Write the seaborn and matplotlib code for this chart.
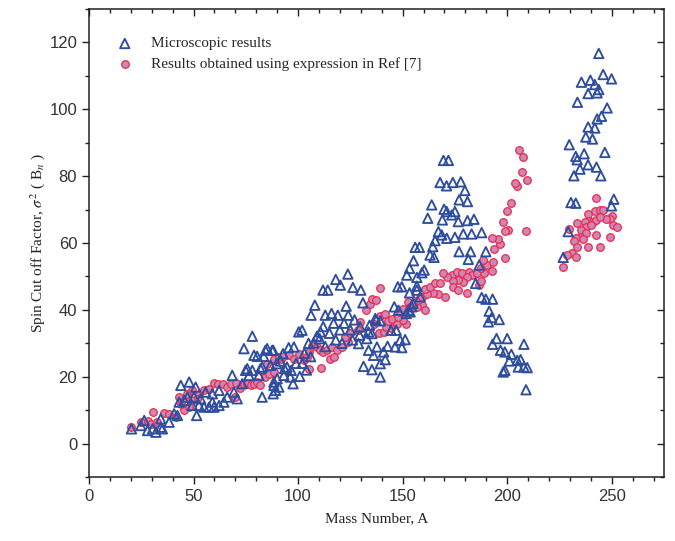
import numpy as np
import pandas as pd
import matplotlib
matplotlib.use("Agg")
import matplotlib.pyplot as plt
import seaborn as sns
from matplotlib.ticker import MultipleLocator

# ---------------- data ----------------
micro_A = [
    20.3, 24.8, 26.4, 28, 30.4, 32, 34.3, 35.1, 38.3, 34.3, 40.7, 42.3, 43.9, 47.9, 51, 51.5,
    45.5, 43.1, 47.1, 50.2, 49.4, 52.6, 53.4, 55, 57.4, 59, 55.8, 59, 59.8, 62.2, 62.2, 64.5,
    66.1, 68.5, 69.3, 70.9, 73.3, 74.1, 75.7, 78.1, 78.9, 80.4, 81.2, 82.8, 83.6, 84.4, 85.2,
    87.6, 86.8, 88.4, 82.8, 89.2, 90, 90.8, 76.5, 78.1, 82, 74.9,
    98, 95.5, 92.8, 91.6, 89.7, 88.1, 88.4, 88.1, 93.2, 96.3, 97.6, 100.8, 94.7, 96.7, 93.5,
    110.7, 109, 110.3, 107.5, 101.9, 100.3, 108, 106.2, 111.9, 114.2, 118, 120.2, 123.8, 126.2,
    130, 123, 131, 113, 116, 119, 124, 129.4, 132.9, 135.3, 137.7, 140.9, 141.7, 139.3, 135.3,
    131.3, 139.3, 142.8, 146.4, 149.6, 148.8, 144.4, 146.9, 151.2, 128.9, 133.7, 136.1, 133.7,
    137.4, 129.7, 134.2, 136.9, 139.3, 146, 148, 152.8, 147.7, 149.6, 154.9, 156.8, 151.7,
    153.6, 158.4, 154.4,
    103, 105, 112, 115, 117, 120, 122, 125, 127, 102, 104, 99, 106, 113, 118, 121, 126,
    156.8, 153.3, 155.2, 153.3, 152, 160.3, 159.2, 156.8, 156, 158, 163.1, 165, 165.5, 164.4,
    162, 163.9, 167.1, 168.7, 171.1, 175, 179, 183, 187.8, 169, 176.6, 181, 184.1, 169.8,
    171.1, 175, 173.5, 177, 181, 179.8, 167.9, 171, 174, 177.8, 169.5, 171.9, 177, 182.5,
    181.4, 189.8, 186.6, 184.9, 187.8, 189.8, 193, 191.4, 192.6, 191, 196.2, 194.9, 193, 200,
    208, 196.8, 198.9, 202, 201, 204.8, 206.4, 208, 209.6, 205.3, 198.1, 198.9, 209,
    243.8, 245.9, 249.9, 235.5, 239.8, 241.9, 243.8, 243, 238.7, 233.6, 247.8, 245.1, 243,
    238.7, 241.9, 237.6, 240.8, 229.7, 246.7, 232.8, 236.8, 233.5, 234.8, 238.7, 242.7, 231.9,
    244.8, 230.5, 232.8, 251, 249.9, 229.2, 226.8,
]
micro_sigma2 = [
    4.4, 5.4, 6.9, 3.9, 4.4, 3.4, 7.4, 4.4, 6.4, 4.9, 8.9, 8.4, 17.4, 18.4, 16.9, 8.4,
    12.9, 12.4, 13.9, 13.9, 11.4, 11.4, 13.4, 10.9, 10.9, 14.9, 15.4, 12.4, 10.9, 15.9, 11.4, 12.4,
    13.9, 20.4, 15.4, 13.4, 17.9, 28.4, 22.4, 32.1, 26.4, 26.1, 20.4, 22.9, 26.1, 27.9, 28.4,
    27.9, 23.4, 18.4, 13.9, 15.9, 19.4, 16.9, 20.4, 21.9, 22.4, 21.9,
    28.9, 28.7, 26.9, 24.7, 23.9, 27.9, 17.4, 14.9, 20.4, 19.9, 17.9, 20.1, 22.9, 21.9, 22.4,
    33.4, 32.1, 31.4, 30.1, 33.9, 33.4, 41.4, 38.4, 45.9, 45.9, 49.1, 47.4, 50.7, 46.7,
    45.9, 41.1, 42.1, 38.4, 38.9, 38.4, 38.4, 32.4, 31.4, 32.9, 28.9, 27.4, 25.1, 23.9, 22.1,
    23.1, 19.9, 29.1, 28.9, 28.7, 30.9, 33.9, 33.9, 31.1, 29.9, 27.9, 26.4, 33.4,
    36.9, 34.9, 35.4, 37.4, 36.7, 40.9, 39.9, 39.9, 46.9, 46.9, 41.9, 45.9, 38.9,
    39.4, 43.9, 40.9,
    27, 30, 35, 33, 36, 34, 36, 34, 37, 24, 22, 24, 26, 29, 31, 30, 31,
    47.1, 45.1, 54.7, 52.4, 50.4, 51.9, 51.1, 49.7, 58.7, 58.7, 56.4, 55.7, 60.7, 58.9,
    67.4, 71.4, 63.4, 62.4, 61.4, 61.7, 62.7, 62.7, 63.1, 66.9, 66.4, 66.7, 67.1, 70.1,
    69.4, 69.4, 68.4, 72.9, 72.4, 75.7, 78.1, 77.1, 78.1, 78.3, 84.7, 84.7, 57.4, 57.4,
    55.1, 57.4, 53.4, 47.9, 43.7, 43.2, 43.2, 39.6, 37.7, 36.4, 37.1, 31.4, 29.7, 31.4,
    29.7, 27.9, 27.4, 26.7, 24.7, 24.9, 25.1, 22.9, 22.7, 22.9, 21.4, 21.9, 16.1,
    116.7, 110.4, 109.1, 108.1, 108.7, 107.4, 105.9, 104.9, 104.7, 102.1, 100.4, 97.9, 97.1,
    94.7, 94.4, 91.7, 91.1, 89.4, 87.1, 85.9, 86.7, 84.9, 82.1, 83.4, 82.7, 80.1,
    80.1, 72.1, 71.9, 73.1, 71.1, 63.4, 55.7,
]

ref_A = [
    20, 24.8, 28, 30.4, 35.9, 38.3, 29.6, 32.7, 41.5, 45.5, 43.9, 43.1, 47.1, 49.4, 52.6, 55,
    57.4, 59.8, 61.7, 64.2, 66.1, 67.7, 70.1, 69.6, 72.2, 74.1, 75.7, 77.3, 78.9, 80.4, 82,
    84.4, 86, 88.4, 85.2, 88.4, 90, 91.6, 47.9, 51.8, 48.6,
    88.4, 90.8, 93.2, 95.5, 97.9, 100.3, 102.7, 105.1, 111, 104.3, 105.1, 106.7, 109, 110.6,
    111.9, 113.8, 115.4, 117, 116.2, 118.6, 121, 123.7, 122.6, 125, 128.5, 129.7, 132.6, 134.5,
    135.3, 137.4, 139.3, 136.1, 138.5, 140.9, 144.4, 142.1, 139.3, 141.7, 143.2, 144.8, 147.2,
    151.7, 150.4, 148, 148.8, 150.4, 152.8, 153.6, 159.1, 160.7, 156.8, 155.2, 157.5, 159.1,
    170.3, 167.1, 164.7, 161.5, 160.7, 163.1, 165.5, 167.9, 173.4, 175.8, 178.2, 181.9, 184.6,
    183, 180.6, 178.7, 176.6, 173.9, 171.4, 169.5, 174.2, 176.6, 180.9, 186.6, 187.3,
    185.4, 188.9, 192.5, 187.3, 190.2, 188.6, 193, 198.9, 193.7, 196.8, 195.7, 192.5, 208.9,
    200.5, 198.9, 197.8, 199.7, 201.6, 204.8, 203.7, 209.6, 206.9, 207.7, 205.8,
    242.7, 238.7, 241.9, 244.3, 245.9, 249.9, 249.1, 247.2, 239.2, 241.1, 242.7, 244.3, 237.1,
    233.5, 237.6, 240.3, 235.5, 237.9, 234.8, 232.8, 236.3, 231.9, 242.7, 249.1, 229.7, 250.7,
    252.6, 233.5, 238.7, 244.6, 230.8, 228.4, 232.8, 226.8,
]
ref_sigma2 = [
    4.9, 6.4, 6.7, 9.4, 9.1, 8.9, 5.9, 6.4, 7.9, 9.9, 11.9, 13.9, 14.9, 15.9, 14.9, 15.9,
    16.4, 18.1, 17.9, 17.7, 16.9, 17.9, 18.1, 13.9, 16.7, 17.7, 17.9, 17.4, 17.9, 18.4, 17.4,
    19.9, 20.9, 21.4, 23.9, 24.9, 25.9, 25.4, 10.9, 13.4, 12.9,
    25.4, 25.9, 26.1, 26.4, 25.4, 26.9, 24.9, 22.4, 22.7, 25.9, 27.4, 29.1, 28.9, 27.9,
    27.4, 27.9, 25.4, 25.9, 28.9, 28.1, 28.9, 30.4, 31.9, 33.1, 33.9, 36.4, 40.1, 41.7,
    43.1, 42.9, 46.4, 35.9, 33.1, 33.4, 34.7, 34.9, 38.1, 38.9, 36.7, 37.4, 35.9,
    35.9, 36.9, 37.9, 39.4, 40.4, 42.4, 40.9, 41.4, 40.1, 40.9, 42.1, 42.9, 43.9,
    43.9, 44.7, 45.1, 44.7, 46.1, 46.7, 47.9, 47.9, 50.4, 51.4, 50.9, 51.4, 50.7,
    50.4, 49.7, 48.3, 48.9, 48.7, 49.9, 51.1, 46.9, 45.9, 45.1, 47.4, 48.7,
    50.9, 51.1, 51.7, 52.4, 53.4, 54.9, 54.4, 55.4, 58.1, 59.7, 61.1, 61.4, 63.7,
    63.9, 63.7, 66.4, 69.7, 72.1, 77.1, 77.9, 78.9, 81.1, 85.7, 87.9,
    73.4, 68.7, 69.7, 69.9, 69.9, 68.1, 67.1, 67.1, 66.7, 66.4, 66.9, 67.9, 66.4,
    65.9, 64.9, 65.4, 63.9, 63.1, 61.9, 61.4, 61.1, 60.7, 62.4, 61.7, 64.1, 65.4,
    64.7, 58.9, 58.9, 58.7, 56.9, 56.4, 55.7, 52.7,
]

legend_labels = ["Microscopic results", "Results obtained using expression in Ref [7]"]
x_label = "Mass Number, A"
y_label = r"Spin Cut off Factor, $\sigma^2$ ( B$_n$ )"

micro = pd.DataFrame({"A": micro_A, "s2": micro_sigma2})
ref = pd.DataFrame({"A": ref_A, "s2": ref_sigma2})

# ---------------- styling ----------------
sns.set_style("ticks")
plt.rcParams["font.family"] = ["Liberation Sans", "DejaVu Sans"]
plt.rcParams["mathtext.fontset"] = "stix"

fig = plt.figure(figsize=(6.75, 5.41), dpi=100)
ax = fig.add_axes([89 / 675, 1 - 477 / 541, 575 / 675, 468 / 541])

sns.scatterplot(data=ref, x="A", y="s2", ax=ax, marker="o", s=30,
                fc="#CE86B6", edgecolor="#EE2A48", linewidth=0.9,
                label=legend_labels[1], zorder=2)
sns.scatterplot(data=micro, x="A", y="s2", ax=ax, marker="^", s=46,
                fc="none", edgecolor="#2E4D9F", linewidth=1.35,
                label=legend_labels[0], zorder=3)

ax.set_xlim(0, 275)
ax.set_ylim(-10, 130)
ax.xaxis.set_major_locator(MultipleLocator(50))
ax.xaxis.set_minor_locator(MultipleLocator(10))
ax.yaxis.set_major_locator(MultipleLocator(20))
ax.yaxis.set_minor_locator(MultipleLocator(10))

for sp in ax.spines.values():
    sp.set_linewidth(1.1)
    sp.set_color("#222222")
    sp.set_visible(True)

ax.tick_params(which="both", direction="out", width=1.0, colors="#222222",
               labelsize=12, labelcolor="#333333")
ax.tick_params(which="major", length=5)
ax.tick_params(which="minor", length=3)
ax.tick_params(which="both", top=True, right=True)
# top/right ticks point inward
for t in ax.xaxis.get_major_ticks() + ax.xaxis.get_minor_ticks():
    t.tick2line.set_marker(matplotlib.lines.TICKDOWN)
for t in ax.yaxis.get_major_ticks() + ax.yaxis.get_minor_ticks():
    t.tick2line.set_marker(matplotlib.lines.TICKLEFT)

ax.set_xlabel(x_label, fontsize=11, family="Liberation Serif", labelpad=6, color="#222222")
ax.set_ylabel(y_label, fontsize=11, family="Liberation Serif", labelpad=2, color="#222222")

h, l = ax.get_legend_handles_labels()
order = [l.index(legend_labels[0]), l.index(legend_labels[1])]
leg = ax.legend([h[i] for i in order], [l[i] for i in order], loc="upper left",
                bbox_to_anchor=(0.025, 0.97), frameon=False,
                prop={"family": "Liberation Serif", "size": 11},
                handlelength=1.0, handletextpad=1.2, labelspacing=0.45)

fig.savefig("out.png", dpi=100)
